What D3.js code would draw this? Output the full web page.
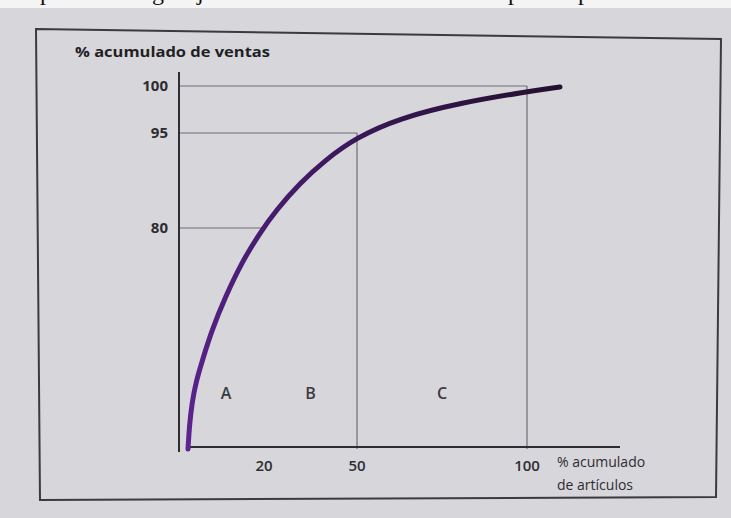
<!DOCTYPE html>
<html>
<head>
<meta charset="utf-8">
<script src="https://cdn.jsdelivr.net/npm/d3@7/dist/d3.min.js"></script>
<style>
  html, body { margin: 0; padding: 0; background: #d7d6da; }
  svg { display: block; }
</style>
</head>
<body>
<svg id="chart" width="731" height="518"></svg>
<script>
// ---- data ----
const curveX = [0, 0.39, 1.05, 2.1, 3.8, 6.3, 9.7, 14.2, 18.9, 23.9, 31.6, 39.7, 49.4, 62.6, 80.3, 100, 109.7];
const curveY = [0, 8.7, 16.7, 24.3, 32.2, 43.1, 54.7, 67.7, 78.2, 82.8, 87.1, 90.7, 94.2, 96.6, 98.2, 99.4, 99.9];
const yTicks = [80, 95, 100];
const xTicks = [20, 50, 100];
const zoneLabels = ["A", "B", "C"];
const zoneCenters = [10, 35, 75];
const yTitle = "% acumulado de ventas";
const xTitle = ["% acumulado", "de artículos"];
const topGlyphs = ["p", "g", "j", "p", "p"];
const topGlyphX = [40, 152, 197, 508, 578];

// ---- scales (schematic, piecewise-linear like the textbook figure) ----
const x = d3.scaleLinear().domain([0, 20, 50, 100]).range([188, 264, 357, 527]);
const y = d3.scaleLinear().domain([0, 80, 95, 100]).range([449, 228, 133, 86]);

const svg = d3.select("#chart");
const ink = "#2d2d33";
const font = "'Open Sans', 'Noto Sans', sans-serif";

// top strip of page (cut-off line of text above the figure)
svg.append("rect").attr("x", 0).attr("y", 0).attr("width", 731).attr("height", 8).attr("fill", "#f4f4f4");
svg.append("g").selectAll("text").data(topGlyphs).join("text")
  .attr("x", (d, i) => topGlyphX[i]).attr("y", 0)
  .attr("font-family", "'Liberation Serif', 'DejaVu Serif', serif")
  .attr("font-size", 24).attr("fill", "#111")
  .text(d => d);
svg.append("rect").attr("x", 0).attr("y", 8).attr("width", 731).attr("height", 510).attr("fill", "#d7d6da");

// frame (slightly skewed as in the photo)
svg.append("path")
  .attr("d", "M36,29 L721,39 L716,497 L40,500 Z")
  .attr("fill", "none").attr("stroke", "#3a3a40").attr("stroke-width", 2);

// gradient for curve
const defs = svg.append("defs");
const grad = defs.append("linearGradient").attr("id", "cg")
  .attr("gradientUnits", "userSpaceOnUse")
  .attr("x1", x(0)).attr("y1", y(0)).attr("x2", x(110)).attr("y2", y(100));
grad.append("stop").attr("offset", "0%").attr("stop-color", "#5e2391");
grad.append("stop").attr("offset", "55%").attr("stop-color", "#3f1a63");
grad.append("stop").attr("offset", "100%").attr("stop-color", "#24102f");

// grid lines
const axisX = 179;
const grid = svg.append("g").attr("stroke", "#6e6d74").attr("stroke-width", 1.2).attr("fill", "none");
const gridEnds = { 80: 20, 95: 50, 100: 100 };
yTicks.forEach(t => {
  grid.append("line").attr("x1", axisX).attr("x2", x(gridEnds[t]))
    .attr("y1", y(t)).attr("y2", y(t));
});
[[50, 95], [100, 100]].forEach(([t, top]) => {
  grid.append("line").attr("x1", x(t)).attr("x2", x(t))
    .attr("y1", y(top)).attr("y2", y(0));
});

// axes
svg.append("line").attr("x1", axisX).attr("x2", axisX).attr("y1", 72).attr("y2", 452)
  .attr("stroke", ink).attr("stroke-width", 2);
svg.append("line").attr("x1", x(0) - 2).attr("x2", 620).attr("y1", y(0) - 2).attr("y2", y(0) - 2)
  .attr("stroke", ink).attr("stroke-width", 2);

// y tick labels
svg.append("g").selectAll("text").data(yTicks).join("text")
  .attr("x", 168).attr("y", d => y(d))
  .attr("dy", "0.35em").attr("text-anchor", "end")
  .attr("font-family", font).attr("font-weight", 700).attr("font-size", 15)
  .attr("fill", ink).text(d => d);

// x tick labels
svg.append("g").selectAll("text").data(xTicks).join("text")
  .attr("x", d => x(d)).attr("y", 466)
  .attr("dy", "0.35em").attr("text-anchor", "middle")
  .attr("font-family", font).attr("font-weight", 600).attr("font-size", 15)
  .attr("fill", ink).text(d => d);

// axis titles
svg.append("text").attr("x", 75).attr("y", 57)
  .attr("font-family", font).attr("font-weight", 700).attr("font-size", 15)
  .attr("textLength", 195).attr("lengthAdjust", "spacingAndGlyphs")
  .attr("fill", "#1f1f24").text(yTitle);
svg.append("g").selectAll("text").data(xTitle).join("text")
  .attr("x", 557).attr("y", (d, i) => 467 + i * 23)
  .attr("font-family", font).attr("font-size", 14)
  .attr("fill", ink).text(d => d);

// zone labels
svg.append("g").selectAll("text").data(zoneLabels).join("text")
  .attr("x", (d, i) => x(zoneCenters[i])).attr("y", y(20))
  .attr("dy", "0.35em").attr("text-anchor", "middle")
  .attr("font-family", font).attr("font-size", 16).attr("font-weight", 600)
  .attr("fill", "#3a3a42").text(d => d);

// curve
const pts = curveX.map((v, i) => [v, curveY[i]]);
const line = d3.line().x(d => x(d[0])).y(d => y(d[1])).curve(d3.curveBasis);
svg.append("path").datum(pts).attr("d", line)
  .attr("fill", "none").attr("stroke", "url(#cg)").attr("stroke-width", 5)
  .attr("stroke-linecap", "round");
</script>
</body>
</html>
